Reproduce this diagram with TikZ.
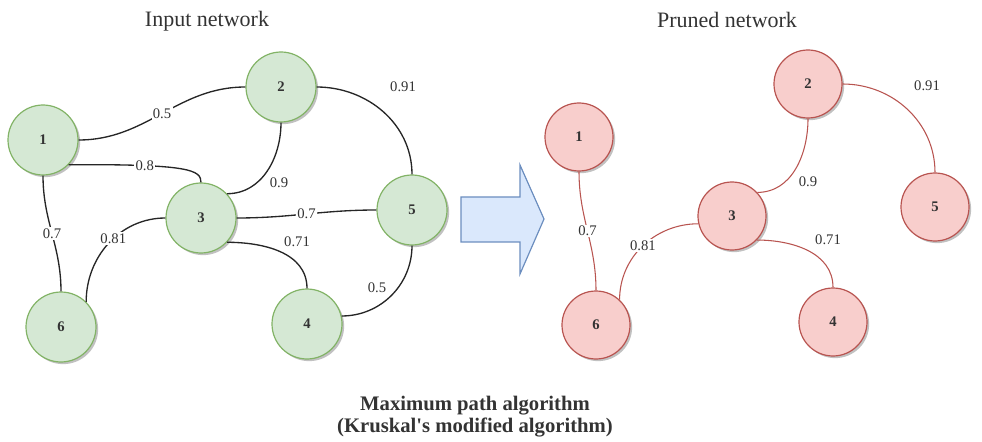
\documentclass[tikz,border=0pt]{standalone}
\usepackage{fontspec}
\setmainfont{Liberation Serif}
\usetikzlibrary{arrows.meta,calc,shadows}

\definecolor{gruenFill}{HTML}{D5E8D4}
\definecolor{gruenRand}{HTML}{82B366}
\definecolor{rotFill}{HTML}{F8CECC}
\definecolor{rotRand}{HTML}{B85450}
\definecolor{blauFill}{HTML}{DAE8FC}
\definecolor{blauRand}{HTML}{6C8EBF}
\definecolor{textgrau}{HTML}{333333}

\begin{document}
\begin{tikzpicture}[x=0.75pt,y=0.75pt,
  knoten/.style={circle, inner sep=0pt, line width=0.9pt, text=textgrau,
    font=\bfseries\fontsize{11}{13}\selectfont,
    drop shadow={shadow xshift=1.6pt,shadow yshift=-1.6pt,fill=black!35,opacity=0.7}},
  gknoten/.style={knoten, draw=gruenRand, fill=gruenFill, minimum size=52.5pt},
  rknoten/.style={knoten, draw=rotRand, fill=rotFill, minimum size=51pt},
  gewicht/.style={text=textgrau, font=\fontsize{11}{13}\selectfont, inner sep=1pt},
  aufLinie/.style={gewicht, fill=white},
  gkante/.style={line width=1pt, black!85},
  rkante/.style={line width=0.8pt, rotRand},
  titel/.style={text=textgrau, font=\fontsize{16.5}{19}\selectfont}]

% Boundingbox (Pixelmass 982 x 442)
\useasboundingbox (0,0) rectangle (982,-442);

% ---------- Titel ----------
\node[titel] (tEin) at (207,-21) {Input network};
\node[titel] (tAus) at (727,-20) {Pruned network};

% ===================
% links: Eingangsnetz (gruen)
% ===================
\node[gknoten] (g1) at (43,-140) {1};
\node[gknoten] (g2) at (281,-87) {2};
\node[gknoten] (g3) at (201,-218) {3};
\node[gknoten] (g4) at (307,-324) {4};
\node[gknoten] (g5) at (412,-210) {5};
\node[gknoten] (g6) at (61,-327) {6};

\draw[gkante] (g1.east) to[out=0,in=180] node[aufLinie]{0.5} (g2.west);
\draw[gkante] (g1.-44) .. controls (190,-164) and (201,-170) .. node[aufLinie,pos=0.27]{0.8} (g3.north);
\draw[gkante] (g2.south) to[out=-90,in=0] (g3.43);
\draw[gkante] (g2.east) to[out=0,in=90] (g5.north);
\draw[gkante] (g1.south) to[out=-90,in=90] node[aufLinie]{0.7} (g6.north);
\draw[gkante] (g3.west) to[out=180,in=90] node[aufLinie,pos=0.45]{0.81} (g6.45);
\draw[gkante] (g3.east) to[out=0,in=180] node[aufLinie]{0.7} (g5.west);
\draw[gkante] (g3.-43) to[out=0,in=90] (g4.north);
\draw[gkante] (g5.south) to[out=-90,in=0] (g4.13);

% Gewichte neben den Kanten
\node[gewicht] (w23) at (279,-183) {0.9};
\node[gewicht] (w25) at (403,-87) {0.91};
\node[gewicht] (w34) at (297,-242) {0.71};
\node[gewicht] (w54) at (377,-288) {0.5};

% ---------- Pfeil ----------
\draw[blauRand, fill=blauFill, line width=0.9pt]
  (461,-197) -- (520,-197) -- (520,-165) -- (544,-219) -- (520,-274) -- (520,-242) -- (461,-242) -- cycle;

% ===================
% rechts: reduziertes Netz (rot)
% ===================
\node[rknoten] (r1) at (579,-137) {1};
\node[rknoten] (r2) at (808,-84) {2};
\node[rknoten] (r3) at (732,-216) {3};
\node[rknoten] (r4) at (833,-322) {4};
\node[rknoten] (r5) at (935,-207) {5};
\node[rknoten] (r6) at (596,-325) {6};

\draw[rkante] (r2.south) to[out=-90,in=0] (r3.43);
\draw[rkante] (r2.east) to[out=0,in=90] (r5.north);
\draw[rkante] (r1.south) to[out=-90,in=90] node[aufLinie]{0.7} (r6.north);
\draw[rkante] (r3.-167) to[out=180,in=90] node[aufLinie]{0.81} (r6.47);
\draw[rkante] (r3.-44) to[out=0,in=90] (r4.north);

\node[gewicht] (v23) at (808,-182) {0.9};
\node[gewicht] (v25) at (927,-86) {0.91};
\node[gewicht] (v34) at (828,-240) {0.71};

% ---------- Unterschrift ----------
\node[text=textgrau, font=\bfseries\fontsize{15.5}{16.5}\selectfont, align=center] (algo) at (475,-417)
  {Maximum path algorithm\\(Kruskal\textquotesingle s modified algorithm)};

\end{tikzpicture}
\end{document}
